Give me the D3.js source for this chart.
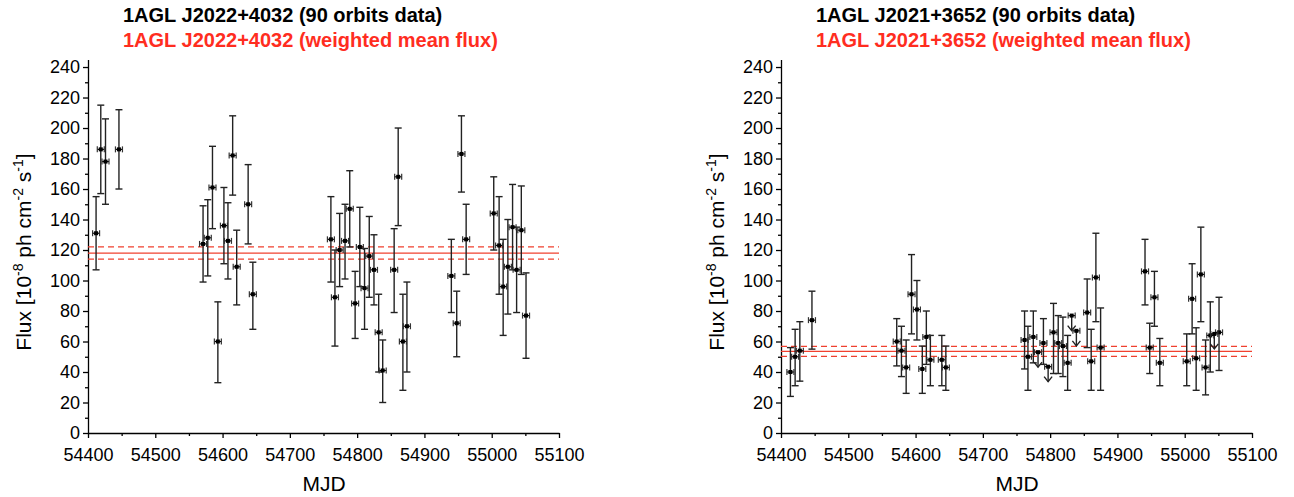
<!DOCTYPE html>
<html>
<head>
<meta charset="utf-8">
<script src="https://cdn.jsdelivr.net/npm/d3@7"></script>
<style>
  body { margin: 0; background: #fff; }
  svg { font-family: 'Liberation Sans', Arial, sans-serif; }
</style>
</head>
<body>
<div id="chart"></div>
<script>
// left source: 1AGL J2022+4032
const mjdA  = [54412,54419,54426,54446,54571,54578,54585,54593,54602,54608,54615,54621,54638,54645,
               54761,54767,54774,54782,54789,54797,54804,54811,54818,54825,54832,54838,54855,54861,54868,54874,
               54940,54948,54955,54962,55003,55011,55017,55024,55031,55037,55044,55051];
const fluxA = [131,186,178,186,124,128,161,60,136,126,182,109,150,91,
               127,89,120,126,147,85,122,95,116,107,66,41,107,168,60,70,
               103,72,183,127,144,123,96,109,135,107,133,77];
const lowA  = [107,157,150,160,99,103,134,33,111,101,156,84,124,68,
               99,57,96,101,122,62,96,68,89,84,40,20,79,136,28,40,
               79,50,158,104,120,91,64,78,107,79,104,49];
const highA = [155,215,206,212,149,153,188,86,161,151,208,133,176,112,
               155,120,144,150,172,106,148,121,142,130,91,61,134,200,91,99,
               127,93,208,150,168,155,127,140,163,135,162,105];
const meanA = [114, 118, 122]; // lower, mean, upper

// right source: 1AGL J2021+3652
const mjdB  = [54414,54421,54428,54446,54572,54579,54586,54594,54602,54610,54616,54622,54639,54645,
               54762,54767,54775,54790,54805,54812,54819,54826,54855,54861,54868,54875,
               54941,54948,54955,54963,55003,55011,55017,55024,55031,55038,55051];
const fluxB = [40,50,54,74,60,54,43,91,81,42,63,48,48,43,
               61,50,63,59,66,59,57,46,79,47,102,56,
               106,56,89,46,47,88,49,104,43,64,66];
const lowB  = [24,31,34,55,44,37,26,65,61,26,45,31,31,28,
               42,28,46,45,39,39,37,28,56,28,73,28,
               84,39,70,31,31,65,28,73,25,40,41];
const highB = [56,68,73,93,75,70,61,117,100,57,80,64,64,57,
               80,70,80,75,85,77,76,64,101,68,131,82,
               127,72,106,62,65,111,69,135,61,86,89];
const ulMjdB  = [54782, 54797, 54832, 54839, 55044];
const ulFluxB = [53, 43.5, 77, 67, 65];
const meanB = [50.3, 53.5, 56.8];

const xTicks = [54400,54500,54600,54700,54800,54900,55000,55100];
const yTicks = [0,20,40,60,80,100,120,140,160,180,200,220,240];

const svg = d3.select('#chart').append('svg')
  .attr('width', 1294).attr('height', 497);

function drawPanel(left, name, mjd, flux, low, high, mean, ulMjd, ulFlux) {
  const x = d3.scaleLinear().domain([54400, 55100]).range([left, left + 471]);
  const y = d3.scaleLinear().domain([0, 245]).range([433, 59.4]);
  const g = svg.append('g');

  // titles
  g.append('text').attr('x', left + 35).attr('y', 22)
    .style('font-size', '20px').style('font-weight', 'bold').attr('fill', '#000')
    .text(name + ' (90 orbits data)');
  g.append('text').attr('x', left + 35).attr('y', 47)
    .style('font-size', '20px').style('font-weight', 'bold').attr('fill', '#ff2d1f')
    .text(name + ' (weighted mean flux)');

  // minor ticks
  const yMinor = d3.range(10, 245, 20);
  g.append('g').attr('transform', `translate(${left},0)`)
    .call(d3.axisLeft(y).tickValues(yMinor).tickSize(3).tickFormat(''))
    .call(a => a.select('.domain').remove());
  const xMinor = d3.range(54450, 55100, 100);
  g.append('g').attr('transform', 'translate(0,433)')
    .call(d3.axisBottom(x).tickValues(xMinor).tickSize(3).tickFormat(''))
    .call(a => a.select('.domain').remove());

  // main axes
  const ya = g.append('g').attr('transform', `translate(${left},0)`)
    .call(d3.axisLeft(y).tickValues(yTicks).tickSize(5).tickSizeOuter(0).tickPadding(3));
  const xa = g.append('g').attr('transform', 'translate(0,433)')
    .call(d3.axisBottom(x).tickValues(xTicks).tickSize(5).tickSizeOuter(0).tickPadding(10)
      .tickFormat(d3.format('d')));
  [ya, xa].forEach(a => {
    a.selectAll('text').style('font-size', '18px').attr('fill', '#000');
    a.selectAll('line, path').attr('stroke', '#000').attr('stroke-width', 1.3);
  });
  g.selectAll('.tick line').attr('stroke', '#000').attr('stroke-width', 1.3);

  // axis titles
  g.append('text').attr('x', left + 236).attr('y', 491).attr('text-anchor', 'middle')
    .style('font-size', '21px').text('MJD');
  const yl = g.append('text').attr('text-anchor', 'middle')
    .attr('transform', `translate(${left - 57},252) rotate(-90)`)
    .style('font-size', '21px');
  yl.append('tspan').text('Flux [10');
  yl.append('tspan').attr('dy', -8).style('font-size', '14px').text('-8');
  yl.append('tspan').attr('dy', 8).text(' ph cm');
  yl.append('tspan').attr('dy', -8).style('font-size', '14px').text('-2');
  yl.append('tspan').attr('dy', 8).text(' s');
  yl.append('tspan').attr('dy', -8).style('font-size', '14px').text('-1');
  yl.append('tspan').attr('dy', 8).text(']');

  // weighted mean lines
  g.selectAll('.mean').data(mean).enter().append('line')
    .attr('x1', x(54400)).attr('x2', x(55100))
    .attr('y1', d => y(d)).attr('y2', d => y(d))
    .attr('stroke', '#f0402f').attr('stroke-width', 1.3)
    .attr('stroke-dasharray', (d, i) => i === 1 ? null : '6,4');

  // error bars
  const pts = mjd.map((m, i) => ({ m, f: flux[i], lo: low[i], hi: high[i] }));
  const eb = g.append('g').attr('stroke', '#222').attr('stroke-width', 1.4).attr('fill', 'none');
  pts.forEach(p => {
    const cx = x(p.m);
    eb.append('line').attr('x1', cx).attr('x2', cx).attr('y1', y(p.lo)).attr('y2', y(p.hi));
    eb.append('line').attr('x1', cx - 3.5).attr('x2', cx + 3.5).attr('y1', y(p.lo)).attr('y2', y(p.lo));
    eb.append('line').attr('x1', cx - 3.5).attr('x2', cx + 3.5).attr('y1', y(p.hi)).attr('y2', y(p.hi));
  });

  // upper limits
  ulMjd.forEach((m, i) => {
    const cx = x(m), cy = y(ulFlux[i]);
    eb.append('line').attr('x1', cx).attr('x2', cx).attr('y1', cy).attr('y2', cy + 15);
    eb.append('path').attr('d', `M${cx - 4},${cy + 10}L${cx},${cy + 15}L${cx + 4},${cy + 10}`);
  });

  // markers
  const allM = mjd.concat(ulMjd), allF = flux.concat(ulFlux);
  allM.forEach((m, i) => {
    const cx = x(m), cy = y(allF[i]);
    const mk = g.append('g');
    mk.append('rect').attr('x', cx - 2).attr('y', cy - 2).attr('width', 4).attr('height', 4).attr('fill', '#000');
    mk.append('line').attr('x1', cx - 3.5).attr('x2', cx + 3.5).attr('y1', cy).attr('y2', cy)
      .attr('stroke', '#000').attr('stroke-width', 1.2);
    [-3.5, 3.5].forEach(dx => mk.append('line').attr('x1', cx + dx).attr('x2', cx + dx)
      .attr('y1', cy - 3).attr('y2', cy + 3).attr('stroke', '#333').attr('stroke-width', 1.2));
  });
}

drawPanel(88, '1AGL J2022+4032', mjdA, fluxA, lowA, highA, meanA, [], []);
drawPanel(781, '1AGL J2021+3652', mjdB, fluxB, lowB, highB, meanB, ulMjdB, ulFluxB);
</script>
</body>
</html>
